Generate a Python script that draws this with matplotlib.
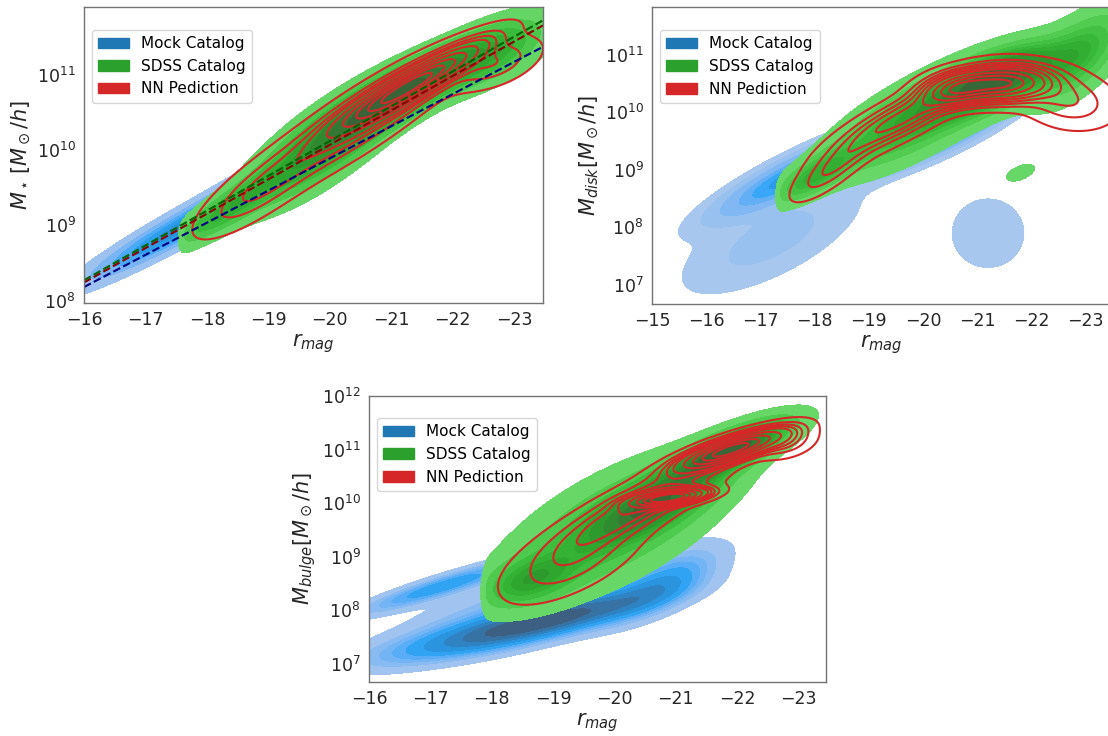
import numpy as np
import matplotlib
matplotlib.use("Agg")
import matplotlib.pyplot as plt
import matplotlib.patches as mpatches
from matplotlib.colors import ListedColormap, to_rgba
from seaborn.external import husl

# ---------------------------------------------------------------------------
# Density components in (r_mag, log10 M) space.
# Each row: r centre, log10 M centre, spread in r, slope dlogM/dr, scatter in logM, weight
# ---------------------------------------------------------------------------
star_mock = [
    (-17.3, 8.85, 0.90, -0.44, 0.14, 0.20),
    (-20.0, 10.04, 1.30, -0.44, 0.15, 0.80),
]
star_sdss = [
    (-21.2, 10.78, 0.80, -0.42, 0.22, 0.40),
    (-19.9, 10.05, 0.80, -0.50, 0.30, 0.35),
    (-22.7, 11.30, 0.60, -0.35, 0.25, 0.15),
    (-18.3, 9.20, 0.60, -0.50, 0.16, 0.10),
]
star_nn = [
    (-21.3, 10.85, 0.65, -0.45, 0.12, 0.50),
    (-20.5, 10.40, 1.00, -0.50, 0.25, 0.35),
    (-18.8, 9.45, 0.60, -0.50, 0.22, 0.10),
    (-22.7, 11.15, 0.45, -0.25, 0.18, 0.07),
]

disk_mock = [
    (-20.2, 9.70, 0.80, -0.40, 0.22, 0.45),
    (-17.6, 8.90, 0.85, -0.45, 0.20, 0.18),
    (-17.2, 7.80, 1.00, -0.40, 0.42, 0.09),
    (-21.2, 7.90, 0.50, 0.00, 0.45, 0.03),
]
disk_sdss = [
    (-21.4, 10.58, 0.70, -0.35, 0.28, 0.36),
    (-19.9, 9.92, 1.00, -0.45, 0.38, 0.39),
    (-22.9, 11.00, 0.55, -0.60, 0.40, 0.17),
    (-18.0, 8.90, 0.50, -0.50, 0.20, 0.08),
    (-21.8, 8.95, 0.25, -0.30, 0.12, 0.006),
]
disk_nn = [
    (-21.5, 10.50, 0.55, -0.05, 0.20, 0.35),
    (-20.6, 10.40, 0.40, -0.10, 0.18, 0.15),
    (-19.6, 9.90, 0.80, -0.45, 0.22, 0.25),
    (-22.7, 10.20, 0.55, 0.10, 0.30, 0.12),
    (-18.3, 9.00, 0.45, -0.60, 0.20, 0.06),
]

bulge_mock = [
    (-19.0, 7.85, 1.10, -0.25, 0.20, 0.38),
    (-17.5, 7.40, 1.20, -0.20, 0.22, 0.18),
    (-20.8, 8.50, 0.60, -0.50, 0.30, 0.15),
    (-17.2, 8.45, 0.90, -0.35, 0.13, 0.10),
    (-19.5, 8.80, 0.80, -0.30, 0.25, 0.13),
    (-18.0, 8.00, 1.00, -0.25, 0.25, 0.08),
]
bulge_sdss = [
    (-21.9, 11.00, 0.60, -0.45, 0.22, 0.22),
    (-20.7, 10.00, 0.70, -0.50, 0.30, 0.22),
    (-20.0, 9.55, 1.10, -0.50, 0.60, 0.46),
    (-18.6, 8.55, 0.50, -0.30, 0.28, 0.10),
]
bulge_nn = [
    (-21.9, 11.00, 0.50, -0.35, 0.13, 0.35),
    (-20.9, 10.10, 0.35, -0.15, 0.08, 0.15),
    (-20.3, 9.90, 0.90, -0.55, 0.28, 0.30),
    (-19.3, 8.85, 0.70, -0.45, 0.35, 0.14),
    (-22.8, 11.15, 0.30, -0.20, 0.18, 0.04),
]

# faint-end magnitude limit of the SDSS sample in each panel
sdss_rlim = [-17.55, -17.30, -17.85]

# linear fits log10 M* = a + b * r_mag (intercept, slope)
fit_sdss = (0.88, -0.462)
fit_nn = (0.93, -0.457)
fit_mock = (1.35, -0.427)

# axis ranges
xlims = [(-16, -23.47), (-15, -23.45), (-16, -23.45)]
ylims_log = [(7.97, 11.90), (6.67, 11.83), (6.66, 12.0)]
xticks = [list(range(-16, -24, -1)), list(range(-15, -24, -1)), list(range(-16, -24, -1))]
ylabels = [r"$M_\star\,[M_\odot/h]$", r"$M_{disk}[M_\odot/h]$", r"$M_{bulge}[M_\odot/h]$"]
legend_labels = ["Mock Catalog", "SDSS Catalog", "NN Pediction"]

C_MOCK, C_SDSS, C_NN = "tab:blue", "tab:green", "tab:red"

# ---------------------------------------------------------------------------
rr = np.linspace(-13.0, -26.0, 420)
mm = np.linspace(5.0, 13.5, 420)
R, MG = np.meshgrid(rr, mm)


def density(comps, rlim=None):
    z = np.zeros_like(R)
    for r0, m0, sr, b, sm, w in comps:
        dr = R - r0
        dm = MG - (m0 + b * dr)
        z += w * np.exp(-0.5 * (dr / sr) ** 2 - 0.5 * (dm / sm) ** 2) / (sr * sm)
    if rlim is not None:
        z *= 1.0 / (1.0 + np.exp(np.clip((R - rlim) / 0.04, -50, 50)))
    return z


def iso_levels(z, props):
    vals = np.sort(z.ravel())[::-1]
    cum = np.cumsum(vals) / vals.sum()
    idx = np.searchsorted(cum, 1 - np.asarray(props))
    return np.take(vals, idx, mode="clip")


def seq_cmap(color):
    r, g, b, _ = to_rgba(color)
    h, s, _ = husl.rgb_to_husl(r, g, b)
    xx = np.linspace(-1, 1, int(1.15 * 256))[:256]
    ramp = np.zeros((256, 3))
    ramp[:, 0] = h
    ramp[:, 1] = s * np.cos(xx)
    ramp[:, 2] = np.linspace(35, 80, 256)
    cols = np.clip([husl.husl_to_rgb(*hsl) for hsl in ramp], 0, 1)
    return ListedColormap(cols[::-1])


PROPS = np.linspace(0.05, 1, 10)
Y = 10.0 ** MG


def kde_fill(ax, comps, color, rlim=None):
    z = density(comps, rlim)
    lev = iso_levels(z, PROPS)
    ax.contourf(R, Y, z, levels=lev, cmap=seq_cmap(color))


def kde_lines(ax, comps, color, rlim=None):
    z = density(comps, rlim)
    lev = iso_levels(z, PROPS)
    ax.contour(R, Y, z, levels=lev, colors=color, linewidths=1.5)


plt.rcParams["font.family"] = ["DejaVu Sans"]
fig = plt.figure(figsize=(11.08, 7.36), dpi=100)
W, H = 1108.0, 736.0
boxes = [(84, 543, 7, 303), (652, 1110, 7, 304), (369, 826, 396, 682)]
axes = []
for (l, r_, t, b_) in boxes:
    axes.append(fig.add_axes([l / W, 1 - b_ / H, (r_ - l) / W, (b_ - t) / H]))

panels = [
    (star_mock, star_sdss, star_nn),
    (disk_mock, disk_sdss, disk_nn),
    (bulge_mock, bulge_sdss, bulge_nn),
]

for i, ax in enumerate(axes):
    mock, sdss, nn = panels[i]
    ax.set_yscale("log")
    kde_fill(ax, mock, C_MOCK)
    kde_fill(ax, sdss, C_SDSS, sdss_rlim[i])
    kde_lines(ax, nn, C_NN)
    if i == 0:
        xr = np.array(xlims[0])
        for (a, bb), c in [(fit_mock, "navy"), (fit_nn, "darkred"), (fit_sdss, "darkgreen")]:
            ax.plot(xr, 10 ** (a + bb * xr), ls="--", color=c, lw=1.5)
    ax.set_xlim(*xlims[i])
    ax.set_ylim(10 ** ylims_log[i][0], 10 ** ylims_log[i][1])
    ax.set_xticks(xticks[i])
    ax.set_xticklabels([f"\u2212{abs(v)}" for v in xticks[i]])
    ax.tick_params(axis="both", which="both", length=0, labelsize=12.5, colors="0.15", pad=6)
    ax.yaxis.set_minor_locator(matplotlib.ticker.NullLocator())
    ax.set_xlabel(r"$r_{mag}$", fontsize=15, color="0.15", labelpad=2)
    ax.set_ylabel(ylabels[i], fontsize=15, color="0.15", labelpad=3)
    for sp in ax.spines.values():
        sp.set_color("0.45")
        sp.set_linewidth(1.0)
    handles = [mpatches.Patch(color=c, label=lab) for c, lab in zip((C_MOCK, C_SDSS, C_NN), legend_labels)]
    ax.legend(handles=handles, loc="upper left", bbox_to_anchor=(0.018, 0.922),
              borderaxespad=0, fontsize=11, frameon=True, edgecolor="0.8")

fig.savefig("out.png", dpi=100)
